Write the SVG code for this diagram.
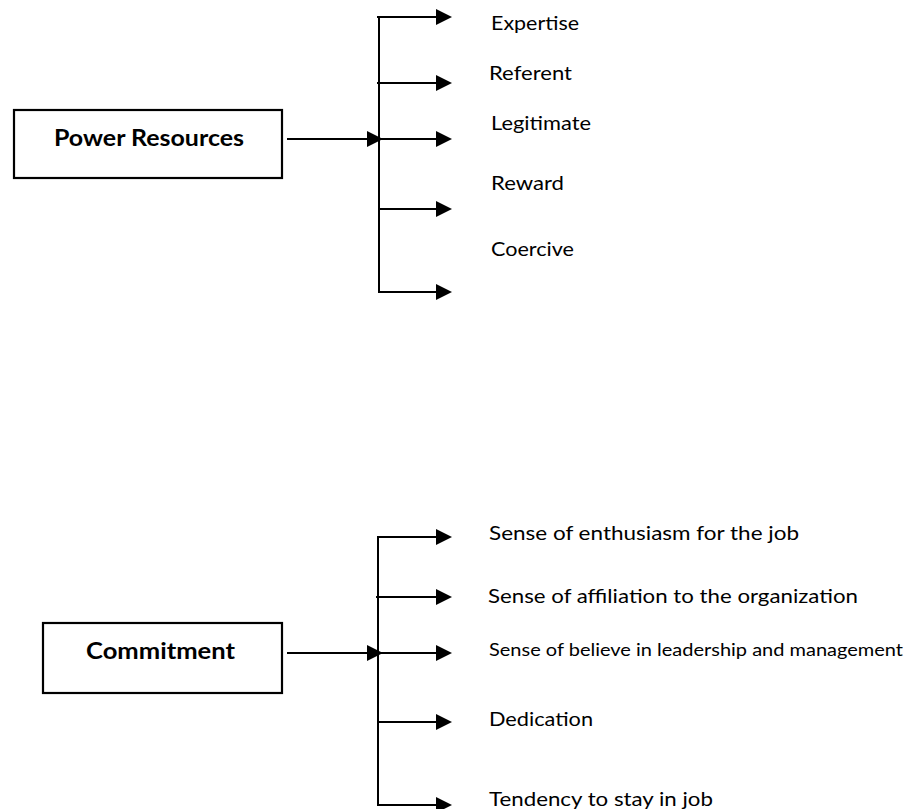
<svg xmlns="http://www.w3.org/2000/svg" width="905" height="809" viewBox="0 0 905 809">
<style>
.box{fill:#fff;stroke:#000;stroke-width:2.2}
.ln{stroke:#000;stroke-width:2;fill:none}
.lbl{font-family:Lato,"Liberation Sans",sans-serif;font-size:20px;fill:#000}
.sm{font-size:17px}
.bold{font-family:Lato,"Liberation Sans",sans-serif;font-size:22px;font-weight:bold;fill:#000}
</style>
<defs>
<marker id="ah" markerUnits="userSpaceOnUse" markerWidth="16" markerHeight="16" refX="9" refY="8" orient="auto">
<path d="M0,0 L16,8 L0,16 z" fill="#000"/>
</marker>
</defs>
<rect width="905" height="809" fill="#fff"/>
<g id="power-resources">
<rect class="box" x="14" y="110" width="268" height="68"/>
<text class="bold" x="54" y="146" textLength="190" lengthAdjust="spacingAndGlyphs">Power Resources</text>
</g>
<g id="commitment">
<rect class="box" x="43" y="623" width="239" height="70"/>
<text class="bold" x="86" y="659" textLength="149" lengthAdjust="spacingAndGlyphs">Commitment</text>
</g>
<g id="labels-top">
<text class="lbl" x="491" y="30" textLength="88" lengthAdjust="spacingAndGlyphs">Expertise</text>
<text class="lbl" x="489" y="80" textLength="83" lengthAdjust="spacingAndGlyphs">Referent</text>
<text class="lbl" x="491" y="130" textLength="100" lengthAdjust="spacingAndGlyphs">Legitimate</text>
<text class="lbl" x="491" y="190" textLength="73" lengthAdjust="spacingAndGlyphs">Reward</text>
<text class="lbl" x="491" y="256" textLength="83" lengthAdjust="spacingAndGlyphs">Coercive</text>
</g>
<g id="labels-bottom">
<text class="lbl" x="489" y="540" textLength="310" lengthAdjust="spacingAndGlyphs">Sense of enthusiasm for the job</text>
<text class="lbl" x="488" y="603" textLength="370" lengthAdjust="spacingAndGlyphs">Sense of affiliation to the organization</text>
<text class="lbl sm" x="489" y="656" textLength="414" lengthAdjust="spacingAndGlyphs">Sense of believe in leadership and management</text>
<text class="lbl" x="489" y="726" textLength="104" lengthAdjust="spacingAndGlyphs">Dedication</text>
<text class="lbl" x="489" y="806" textLength="224" lengthAdjust="spacingAndGlyphs">Tendency to stay in job</text>
</g>
<g id="connectors">
<line class="ln" x1="287" y1="139" x2="376" y2="139" marker-end="url(#ah)"/>
<line class="ln" x1="379" y1="16" x2="379" y2="293"/>
<line class="ln" x1="377" y1="17" x2="445" y2="17" marker-end="url(#ah)"/>
<line class="ln" x1="377" y1="83" x2="445" y2="83" marker-end="url(#ah)"/>
<line class="ln" x1="379" y1="139" x2="445" y2="139" marker-end="url(#ah)"/>
<line class="ln" x1="379" y1="209" x2="445" y2="209" marker-end="url(#ah)"/>
<line class="ln" x1="378" y1="292" x2="445" y2="292" marker-end="url(#ah)"/>
<line class="ln" x1="287" y1="653" x2="376" y2="653" marker-end="url(#ah)"/>
<line class="ln" x1="378" y1="536" x2="378" y2="806"/>
<line class="ln" x1="377" y1="537" x2="445" y2="537" marker-end="url(#ah)"/>
<line class="ln" x1="376" y1="597" x2="445" y2="597" marker-end="url(#ah)"/>
<line class="ln" x1="378" y1="653" x2="445" y2="653" marker-end="url(#ah)"/>
<line class="ln" x1="378" y1="722" x2="445" y2="722" marker-end="url(#ah)"/>
<line class="ln" x1="377" y1="805" x2="445" y2="805" marker-end="url(#ah)"/>
</g>
</svg>
